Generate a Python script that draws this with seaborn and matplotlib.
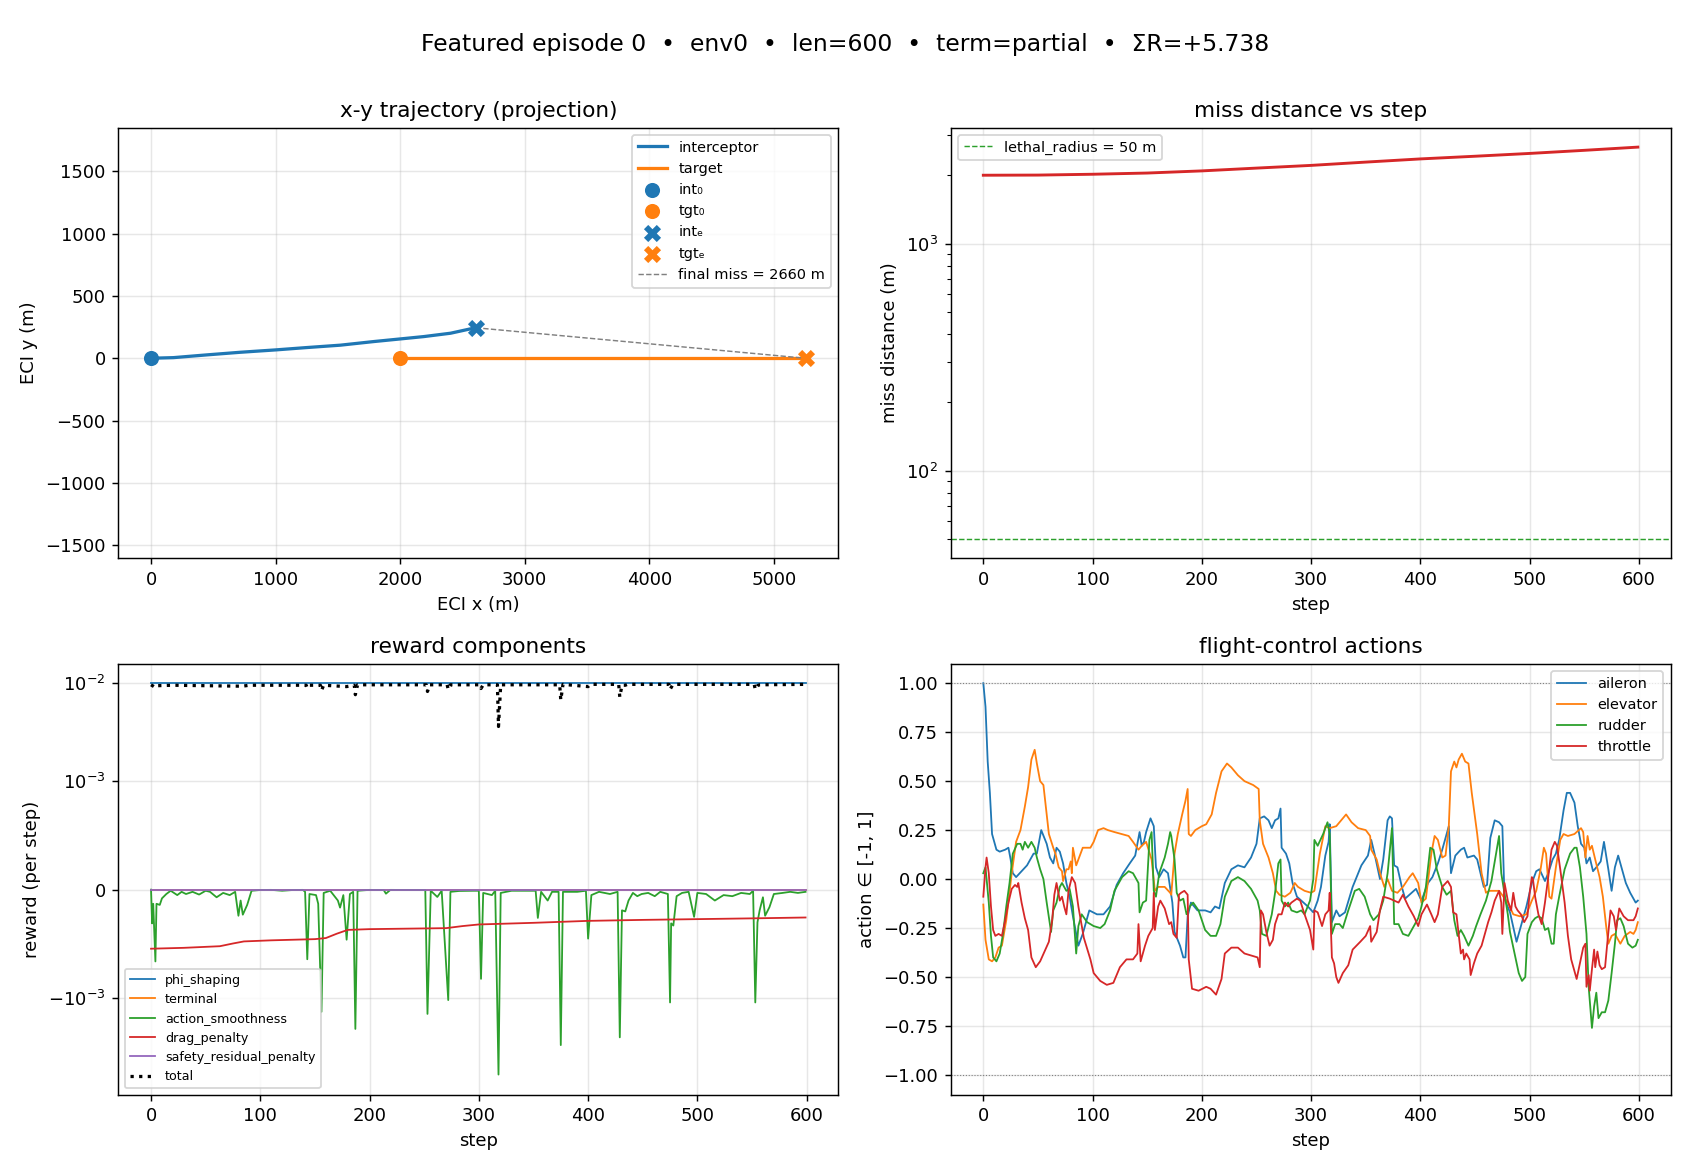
#!/usr/bin/env python3
"""Featured episode dashboard: trajectory, miss distance, reward components, actions."""

import numpy as np
import seaborn as sns
import matplotlib
matplotlib.use("Agg")
import matplotlib.pyplot as plt

# ── trajectory (ECI x / y, metres) ───────────────────────────
int_x = [0, 180, 448, 716, 1000, 1252, 1520, 1788, 2000, 2190, 2405, 2606]
int_y = [0, 5, 27, 48, 67, 86, 105, 134, 155, 174, 201, 245]
tgt_x = [2000, 3000, 4000, 5255]
tgt_y = [0, 0, 0, 0]
final_miss = 2660

# ── miss distance ───────────────────────────────────────────
miss_step = [0, 50, 100, 150, 200, 250, 300, 350, 400, 450, 500, 550, 599]
miss_dist = [2000, 2003, 2020, 2045, 2090, 2150, 2210, 2285, 2360, 2425, 2495, 2575, 2660]
lethal_radius = 50

# ── reward components ───────────────────────────────────────
phi_step = [0, 599]
phi_shaping = [0.0100, 0.0100]
terminal_step = [0, 599]
terminal = [0.0, 0.0]
safety_step = [0, 599]
safety_residual_penalty = [0.0, 0.0]

smooth_step = [0, 1, 2, 4, 5, 8, 10, 14, 18, 24, 28, 32, 38, 44, 50, 54, 60, 66, 72, 77,
               80, 82, 84, 88, 92, 100, 110, 120, 130, 139, 141, 143, 145, 151, 153, 156,
               158, 164, 171, 173, 176, 179, 182, 185, 187, 189, 200, 213, 215, 219, 235,
               251, 253, 256, 262, 266, 272, 274, 282, 295, 300, 302, 304, 312, 315, 318,
               320, 330, 345, 352, 354, 357, 363, 367, 373, 375, 377, 390, 398, 400, 403,
               410, 420, 427, 429, 431, 434, 437, 441, 445, 449, 455, 461, 466, 473, 475,
               476, 478, 481, 486, 492, 497, 500, 508, 516, 524, 532, 540, 548, 551, 553,
               555, 557, 560, 562, 566, 570, 578, 585, 592, 599]
action_smoothness = [0.0, -3.1e-4, -1.3e-4, -6.6e-4, -1.3e-4, -1.4e-4, -8e-5, -4e-5, -1e-5,
                     -5e-5, -2e-5, -4e-5, -2e-5, -4.5e-5, -1e-5, -2e-5, -7e-5, -3e-5, -5e-5,
                     -2e-5, -2.4e-4, -1e-4, -2.3e-4, -1.4e-4, -1e-5, -3e-6, -2e-6, -1e-5,
                     -3e-6, -2e-6, -2e-5, -6.4e-4, -4e-5, -5e-5, -1.3e-4, -1.37e-3, -3e-5,
                     -1e-5, -1e-4, -1.65e-4, -5e-5, -4.6e-4, -4e-5, -2e-5, -2.05e-3, -1e-5,
                     -2e-6, -4e-6, -3.7e-5, -2e-6, -3e-6, -3e-6, -1.44e-3, -1e-5, -6.7e-5,
                     -1e-5, -1.04e-3, -2e-5, -1.2e-5, -1e-5, -1e-5, -8.2e-4, -3e-5, -5e-5,
                     -1e-5, -6.0e-3, -3e-5, -1e-5, -1e-5, -1e-5, -2.6e-4, -2e-5, -1e-4,
                     -2e-5, -2e-5, -3.0e-3, -2e-5, -2e-5, -1e-5, -4.5e-4, -5e-5, -2e-5,
                     -4e-5, -2e-5, -2.5e-3, -1.9e-4, -2.0e-4, -1e-4, -3e-5, -6e-5, -4e-5,
                     -3e-5, -6e-5, -2e-5, -4e-5, -1.1e-3, -3.1e-4, -3.3e-4, -6e-5, -3e-5,
                     -2e-5, -2.5e-4, -3e-5, -4e-5, -1e-4, -5e-5, -6e-5, -3e-5, -4e-5, -1e-5,
                     -1.1e-3, -3e-4, -1.9e-4, -7e-5, -2.4e-4, -1.6e-4, -4e-5, -3e-5, -2e-5,
                     -3e-5, -2e-5]

drag_step = [0, 30, 63, 75, 85, 110, 150, 160, 170, 180, 200, 270, 285, 300, 350, 400,
             450, 500, 550, 599]
drag_penalty = [-5.43e-4, -5.35e-4, -5.2e-4, -4.95e-4, -4.76e-4, -4.66e-4, -4.55e-4,
                -4.45e-4, -4.05e-4, -3.7e-4, -3.63e-4, -3.54e-4, -3.35e-4, -3.2e-4,
                -3.05e-4, -2.87e-4, -2.78e-4, -2.71e-4, -2.64e-4, -2.56e-4]

total_step = [0, 2, 4, 6, 20, 80, 84, 90, 142, 143, 145, 155, 156, 158, 179, 186, 187, 189,
              252, 253, 255, 271, 272, 274, 301, 302, 304, 317, 318, 320, 374, 375, 377,
              400, 402, 428, 429, 431, 434, 436, 474, 475, 477, 479, 552, 553, 555, 557, 599]
total = [0.0096, 0.0093, 0.0090, 0.0094, 0.0095, 0.0093, 0.0093, 0.0095, 0.0095, 0.0089,
         0.0095, 0.0095, 0.0084, 0.0095, 0.0092, 0.0095, 0.0076, 0.0096, 0.0096, 0.0082,
         0.0096, 0.0096, 0.0086, 0.0096, 0.0096, 0.0088, 0.0096, 0.0096, 0.0036, 0.0096,
         0.0096, 0.0067, 0.0097, 0.0092, 0.0097, 0.0097, 0.0072, 0.0095, 0.0095, 0.0097,
         0.0097, 0.0086, 0.0094, 0.0097, 0.0097, 0.0086, 0.0094, 0.0096, 0.0097]

# ── flight-control actions ──────────────────────────────────
aileron_step = [0, 2, 4, 6, 8, 12, 15, 20, 23, 25, 27, 30, 35, 40, 46, 49, 52, 53, 58, 61,
                64, 67, 70, 73, 76, 79, 82, 87, 91, 97, 104, 110, 116, 122, 128, 134, 139,
                143, 145, 147, 149, 153, 156, 158, 161, 165, 169, 173, 175, 180, 183, 185,
                187, 190, 196, 203, 208, 212, 216, 221, 227, 233, 239, 245, 250, 253, 257,
                261, 264, 267, 270, 272, 273, 277, 280, 283, 287, 291, 297, 302, 306, 309,
                313, 316, 317, 319, 323, 326, 331, 338, 346, 352, 355, 358, 363, 366, 370,
                372, 374, 376, 379, 383, 386, 392, 396, 401, 407, 411, 416, 420, 426, 428,
                432, 437, 440, 443, 449, 452, 455, 458, 461, 464, 468, 472, 475, 477, 482,
                488, 492, 497, 502, 506, 509, 514, 517, 521, 524, 527, 531, 534, 537, 541,
                544, 547, 550, 552, 555, 558, 561, 565, 568, 572, 575, 578, 581, 584, 588,
                592, 595, 597, 599]
aileron = [1.00, 0.88, 0.60, 0.44, 0.23, 0.15, 0.14, 0.15, 0.16, 0.10, 0.03, 0.01, 0.04,
           0.07, 0.13, 0.13, 0.22, 0.25, 0.18, 0.11, 0.08, 0.16, 0.14, 0.08, -0.02, -0.09,
           -0.19, -0.34, -0.28, -0.16, -0.18, -0.18, -0.14, -0.03, 0.03, 0.08, 0.12, 0.24,
           0.17, 0.19, 0.24, 0.31, 0.27, 0.06, 0.01, 0.05, 0.03, -0.12, -0.27, -0.34, -0.40,
           -0.40, -0.19, -0.12, -0.16, -0.16, -0.17, -0.14, -0.15, -0.02, 0.05, 0.07, 0.06,
           0.11, 0.18, 0.31, 0.32, 0.30, 0.26, 0.30, 0.31, 0.36, 0.16, 0.13, 0.08, -0.02,
           -0.09, -0.11, -0.14, -0.17, -0.11, -0.04, 0.12, 0.19, 0.28, -0.22, -0.16, -0.19,
           -0.17, -0.04, 0.07, 0.12, 0.20, 0.13, 0.00, 0.10, 0.30, 0.32, 0.31, 0.07, 0.06,
           -0.04, -0.10, -0.07, -0.05, -0.11, -0.02, 0.01, 0.08, 0.15, 0.27, 0.03, 0.12,
           0.15, 0.16, 0.11, 0.12, 0.10, 0.03, -0.04, -0.03, 0.21, 0.30, 0.29, 0.27, -0.10,
           -0.17, -0.32, -0.24, -0.14, -0.02, 0.04, 0.05, -0.01, 0.03, 0.10, 0.13, 0.20,
           0.35, 0.44, 0.44, 0.39, 0.27, 0.18, 0.16, 0.08, 0.11, 0.04, 0.06, 0.09, 0.19,
           0.05, -0.06, 0.06, 0.12, 0.06, -0.02, -0.07, -0.10, -0.12, -0.11]

elevator_step = [0, 2, 5, 8, 11, 14, 17, 21, 26, 30, 34, 38, 41, 44, 47, 49, 52, 55, 58, 60,
                 64, 66, 69, 72, 73, 76, 78, 80, 81, 82, 85, 87, 91, 95, 98, 101, 105, 110,
                 114, 120, 133, 137, 142, 145, 149, 154, 157, 160, 166, 171, 172, 175, 178,
                 182, 185, 187, 188, 190, 194, 200, 204, 209, 213, 218, 223, 227, 233, 239,
                 247, 252, 253, 256, 261, 265, 268, 271, 276, 281, 285, 288, 294, 300, 303,
                 308, 313, 317, 323, 326, 332, 337, 343, 350, 354, 355, 360, 363, 367, 370,
                 374, 379, 384, 390, 393, 398, 401, 405, 410, 413, 416, 420, 423, 426, 428,
                 431, 433, 435, 438, 441, 444, 447, 452, 456, 460, 463, 472, 480, 485, 491,
                 497, 502, 506, 510, 513, 515, 518, 520, 524, 528, 531, 535, 541, 547, 549,
                 551, 553, 555, 557, 560, 564, 567, 570, 572, 575, 578, 583, 587, 592, 595,
                 597, 599]
elevator = [-0.13, -0.31, -0.41, -0.42, -0.40, -0.35, -0.34, -0.21, 0.03, 0.19, 0.25, 0.37,
            0.47, 0.61, 0.66, 0.59, 0.50, 0.48, 0.33, 0.23, 0.16, 0.13, 0.06, 0.04, -0.01,
            0.05, 0.05, 0.09, 0.03, 0.16, 0.07, 0.10, 0.16, 0.16, 0.16, 0.19, 0.25, 0.26,
            0.25, 0.24, 0.22, 0.19, 0.15, 0.17, 0.19, 0.10, -0.06, -0.04, -0.04, -0.07,
            -0.08, 0.13, 0.23, 0.33, 0.40, 0.46, 0.23, 0.22, 0.25, 0.27, 0.28, 0.33, 0.44,
            0.55, 0.59, 0.57, 0.53, 0.50, 0.48, 0.46, 0.30, 0.18, 0.11, 0.03, -0.06, -0.08,
            -0.09, -0.07, -0.02, -0.04, -0.06, -0.07, -0.06, 0.13, 0.27, 0.26, 0.27, 0.29,
            0.33, 0.29, 0.26, 0.25, 0.22, 0.15, 0.10, 0.03, -0.04, 0.00, -0.06, -0.07, -0.04,
            0.01, 0.03, -0.02, -0.12, -0.10, 0.13, 0.22, 0.20, 0.11, 0.12, 0.27, 0.55, 0.60,
            0.57, 0.61, 0.64, 0.60, 0.59, 0.44, 0.23, 0.03, -0.07, -0.06, -0.06, -0.12, -0.18,
            -0.19, -0.18, -0.11, -0.06, 0.05, 0.16, 0.13, -0.09, -0.10, 0.06, 0.20, 0.23,
            0.22, 0.23, 0.26, 0.24, 0.11, 0.22, 0.15, 0.17, 0.10, 0.01, -0.09, -0.24, -0.33,
            -0.29, -0.28, -0.33, -0.29, -0.27, -0.28, -0.26, -0.22]

rudder_step = [0, 2, 5, 7, 9, 12, 15, 18, 21, 24, 27, 31, 34, 36, 38, 41, 44, 47, 49, 52,
               55, 58, 62, 64, 67, 70, 72, 74, 76, 79, 82, 85, 87, 90, 95, 101, 107, 111,
               116, 120, 127, 133, 137, 142, 143, 146, 149, 152, 154, 156, 158, 161, 166,
               169, 171, 172, 175, 177, 180, 183, 186, 189, 192, 197, 203, 208, 213, 217,
               221, 227, 233, 239, 245, 251, 253, 255, 259, 264, 267, 270, 272, 273, 276,
               279, 282, 287, 291, 294, 299, 302, 303, 306, 311, 315, 317, 319, 322, 326,
               329, 334, 340, 344, 349, 354, 357, 362, 366, 370, 374, 376, 380, 384, 389,
               393, 398, 401, 405, 409, 412, 415, 420, 424, 428, 431, 434, 437, 440, 444,
               448, 451, 455, 460, 465, 469, 472, 474, 480, 482, 487, 490, 493, 496, 498,
               502, 505, 508, 511, 514, 517, 520, 522, 524, 527, 532, 537, 541, 543, 546,
               549, 552, 554, 557, 559, 561, 563, 566, 569, 572, 575, 578, 580, 583, 586,
               590, 594, 597, 599]
rudder = [0.03, 0.06, -0.12, -0.29, -0.40, -0.42, -0.38, -0.28, -0.14, -0.02, 0.13, 0.18,
          0.18, 0.15, 0.19, 0.16, 0.19, 0.16, 0.11, 0.05, 0.00, -0.12, -0.27, -0.16, -0.12,
          -0.04, -0.02, -0.04, -0.06, -0.05, -0.14, -0.38, -0.24, -0.18, -0.22, -0.24,
          -0.25, -0.23, -0.16, -0.06, 0.01, 0.04, 0.03, -0.02, -0.17, -0.12, -0.11, 0.20,
          0.24, -0.06, -0.09, 0.03, 0.11, 0.18, 0.24, 0.22, 0.10, -0.07, -0.11, -0.10,
          -0.18, -0.14, -0.12, -0.16, -0.26, -0.29, -0.29, -0.23, -0.09, -0.01, 0.01,
          -0.01, -0.05, -0.11, -0.16, -0.28, -0.29, -0.18, -0.07, 0.08, 0.10, -0.11, -0.14,
          -0.12, -0.16, -0.17, -0.16, -0.18, -0.11, 0.00, 0.20, 0.17, 0.23, 0.29, 0.23,
          -0.28, -0.23, -0.23, -0.25, -0.16, -0.06, -0.05, -0.09, -0.18, -0.21, -0.18,
          -0.11, 0.03, 0.26, -0.23, -0.23, -0.28, -0.29, -0.25, -0.20, -0.14, -0.04, 0.16,
          0.15, 0.05, -0.04, -0.08, -0.06, -0.21, -0.29, -0.26, -0.29, -0.34, -0.29, -0.24,
          -0.18, -0.11, -0.01, 0.12, 0.22, 0.03, -0.18, -0.27, -0.40, -0.48, -0.52, -0.50,
          -0.28, -0.22, -0.20, -0.19, -0.20, -0.26, -0.25, -0.33, -0.33, -0.18, -0.09,
          0.05, 0.13, 0.16, 0.16, 0.06, -0.09, -0.28, -0.55, -0.76, -0.65, -0.58, -0.71,
          -0.68, -0.68, -0.62, -0.48, -0.33, -0.21, -0.20, -0.24, -0.33, -0.35, -0.34, -0.31]

throttle_step = [0, 2, 3, 5, 7, 9, 11, 14, 17, 20, 23, 26, 29, 31, 32, 35, 38, 41, 44, 48,
                 52, 56, 60, 63, 65, 67, 70, 72, 74, 76, 78, 81, 84, 87, 92, 98, 101, 107,
                 113, 119, 125, 131, 137, 141, 142, 144, 148, 151, 155, 156, 157, 160, 162,
                 166, 170, 172, 174, 177, 179, 181, 184, 187, 188, 191, 197, 204, 208, 213,
                 218, 221, 227, 233, 239, 245, 251, 253, 254, 256, 259, 262, 265, 267, 270,
                 273, 276, 279, 282, 287, 290, 294, 299, 302, 303, 306, 310, 313, 316, 317,
                 319, 321, 323, 325, 329, 334, 338, 345, 350, 354, 355, 360, 363, 366, 372,
                 376, 380, 384, 389, 394, 398, 401, 406, 410, 413, 416, 420, 425, 428, 430,
                 433, 435, 437, 439, 440, 442, 445, 446, 449, 452, 456, 459, 462, 465, 468,
                 472, 474, 475, 477, 480, 483, 485, 487, 489, 492, 495, 498, 500, 502, 503,
                 505, 508, 511, 514, 517, 520, 523, 525, 528, 532, 535, 538, 543, 546, 549,
                 551, 552, 554, 555, 557, 559, 560, 562, 564, 566, 569, 571, 574, 577, 579,
                 582, 586, 590, 595, 597, 599]
throttle = [-0.09, 0.06, 0.11, 0.03, -0.14, -0.26, -0.29, -0.28, -0.29, -0.21, -0.12,
            -0.05, -0.03, -0.04, -0.02, -0.12, -0.20, -0.26, -0.40, -0.45, -0.42, -0.37,
            -0.32, -0.21, -0.08, -0.02, -0.11, -0.09, -0.14, -0.18, -0.06, 0.01, -0.02,
            -0.14, -0.30, -0.41, -0.48, -0.52, -0.54, -0.53, -0.45, -0.41, -0.41, -0.38,
            -0.23, -0.42, -0.34, -0.29, -0.25, -0.07, -0.26, -0.14, -0.11, -0.15, -0.23,
            -0.22, -0.28, -0.30, -0.08, -0.07, -0.06, -0.08, -0.41, -0.56, -0.57, -0.55,
            -0.56, -0.59, -0.51, -0.38, -0.35, -0.35, -0.38, -0.39, -0.40, -0.45, -0.16,
            -0.18, -0.27, -0.34, -0.31, -0.23, -0.18, -0.18, -0.12, -0.14, -0.12, -0.10,
            -0.11, -0.18, -0.26, -0.36, -0.16, -0.17, -0.24, -0.18, -0.16, -0.07, -0.40,
            -0.43, -0.50, -0.53, -0.48, -0.44, -0.36, -0.32, -0.29, -0.24, -0.32, -0.27,
            -0.16, -0.09, -0.10, -0.11, -0.12, -0.08, -0.14, -0.19, -0.24, -0.18, -0.13,
            -0.18, -0.22, -0.18, -0.04, -0.01, -0.04, -0.17, -0.18, -0.28, -0.38, -0.36,
            -0.41, -0.38, -0.41, -0.49, -0.43, -0.38, -0.34, -0.28, -0.22, -0.17, -0.11,
            -0.06, -0.12, -0.28, -0.02, -0.11, -0.16, -0.07, -0.14, -0.16, -0.18, -0.22,
            -0.19, -0.07, 0.01, 0.00, -0.09, -0.18, -0.23, -0.12, 0.01, 0.15, 0.19, 0.17,
            0.05, -0.12, -0.29, -0.41, -0.51, -0.43, -0.35, -0.33, -0.55, -0.49, -0.57,
            -0.46, -0.36, -0.45, -0.37, -0.44, -0.46, -0.45, -0.33, -0.16, -0.19, -0.26,
            -0.15, -0.19, -0.21, -0.21, -0.19, -0.15]

C_BLUE, C_ORANGE, C_GREEN, C_RED, C_PURPLE = sns.color_palette("tab10")[:5]


def draw_trajectory(ax):
    sns.lineplot(x=int_x, y=int_y, ax=ax, color=C_BLUE, linewidth=1.8,
                 estimator=None, sort=False, label="interceptor")
    sns.lineplot(x=tgt_x, y=tgt_y, ax=ax, color=C_ORANGE, linewidth=1.8,
                 estimator=None, sort=False, label="target")
    sns.scatterplot(x=[int_x[0]], y=[int_y[0]], ax=ax, color=C_BLUE, s=70,
                    marker="o", linewidth=0, label="int\u2080", zorder=5)
    sns.scatterplot(x=[tgt_x[0]], y=[tgt_y[0]], ax=ax, color=C_ORANGE, s=70,
                    marker="o", linewidth=0, label="tgt\u2080", zorder=5)
    sns.scatterplot(x=[int_x[-1]], y=[int_y[-1]], ax=ax, color=C_BLUE, s=90,
                    marker="X", linewidth=0, label="int\u2091", zorder=5)
    sns.scatterplot(x=[tgt_x[-1]], y=[tgt_y[-1]], ax=ax, color=C_ORANGE, s=90,
                    marker="X", linewidth=0, label="tgt\u2091", zorder=5)
    ax.plot([int_x[-1], tgt_x[-1]], [int_y[-1], tgt_y[-1]], color="gray",
            linestyle="--", linewidth=0.8, label=f"final miss = {final_miss} m")
    ax.set_aspect("equal", adjustable="datalim")
    ax.set_title("x-y trajectory (projection)")
    ax.set_xlabel("ECI x (m)")
    ax.set_ylabel("ECI y (m)")
    ax.grid(alpha=0.3)
    ax.legend(loc="upper right", fontsize=8)


def draw_miss(ax):
    sns.lineplot(x=miss_step, y=miss_dist, ax=ax, color=C_RED, linewidth=1.6,
                 estimator=None)
    ax.axhline(lethal_radius, color=C_GREEN, linestyle="--", linewidth=0.8,
               label=f"lethal_radius = {lethal_radius} m")
    ax.set_yscale("log")
    ax.set_title("miss distance vs step")
    ax.set_xlabel("step")
    ax.set_ylabel("miss distance (m)")
    ax.grid(alpha=0.3)
    ax.legend(loc="upper left", fontsize=8)


def draw_rewards(ax):
    comps = [
        (phi_step, phi_shaping, "phi_shaping", C_BLUE),
        (terminal_step, terminal, "terminal", C_ORANGE),
        (smooth_step, action_smoothness, "action_smoothness", C_GREEN),
        (drag_step, drag_penalty, "drag_penalty", C_RED),
        (safety_step, safety_residual_penalty, "safety_residual_penalty", C_PURPLE),
    ]
    for xs, ys, name, col in comps:
        sns.lineplot(x=xs, y=ys, ax=ax, color=col, linewidth=1.0,
                     estimator=None, label=name)
    sns.lineplot(x=total_step, y=total, ax=ax, color="black", linewidth=1.8,
                 linestyle=":", estimator=None, label="total")
    ax.set_yscale("symlog", linthresh=1e-3)
    ax.set_ylim(-9.6e-3, 1.58e-2)
    ax.set_title("reward components")
    ax.set_xlabel("step")
    ax.set_ylabel("reward (per step)")
    ax.grid(alpha=0.3)
    ax.legend(loc="lower left", fontsize=7)


def draw_actions(ax):
    acts = [
        (aileron_step, aileron, "aileron", C_BLUE),
        (elevator_step, elevator, "elevator", C_ORANGE),
        (rudder_step, rudder, "rudder", C_GREEN),
        (throttle_step, throttle, "throttle", C_RED),
    ]
    for xs, ys, name, col in acts:
        sns.lineplot(x=xs, y=ys, ax=ax, color=col, linewidth=1.0,
                     estimator=None, label=name)
    for lim in (-1.0, 1.0):
        ax.axhline(lim, color="gray", linestyle=":", linewidth=0.6)
    ax.set_title("flight-control actions")
    ax.set_xlabel("step")
    ax.set_ylabel("action \u2208 [-1, 1]")
    ax.grid(alpha=0.3)
    ax.legend(loc="upper right", fontsize=8)


def main():
    fig, axes = plt.subplots(2, 2, figsize=(13, 9), dpi=130)
    draw_trajectory(axes[0, 0])
    draw_miss(axes[0, 1])
    draw_rewards(axes[1, 0])
    draw_actions(axes[1, 1])

    fig.suptitle("Featured episode 0  \u2022  env0  \u2022  len=600  \u2022  term=partial"
                 "  \u2022  \u03a3R=+5.738", fontsize=13, y=0.972)
    fig.subplots_adjust(left=0.070, right=0.9885, top=0.891, bottom=0.0645,
                        wspace=0.156, hspace=0.244)
    fig.savefig("out.png", dpi=130)
    plt.close(fig)


if __name__ == "__main__":
    main()
